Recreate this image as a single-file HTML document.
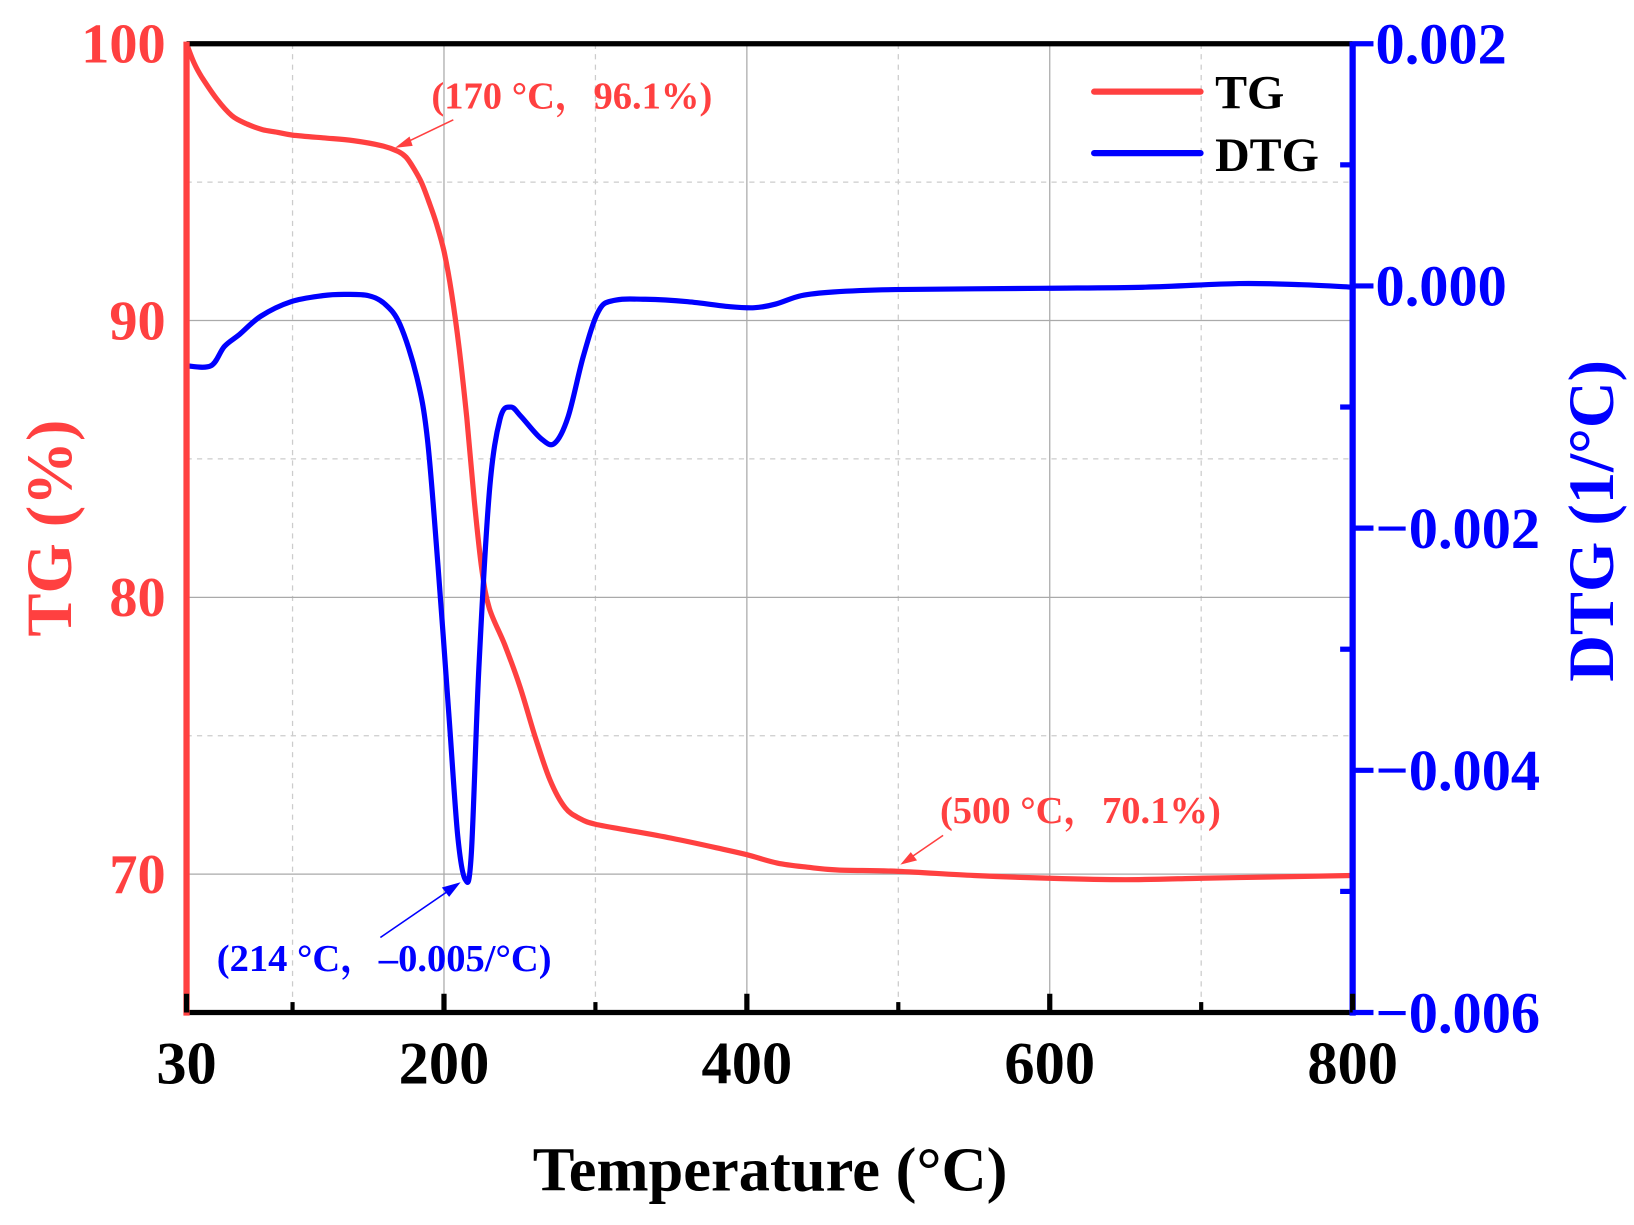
<!DOCTYPE html>
<html><head><meta charset="utf-8"><style>
html,body{margin:0;padding:0;background:#fff;}
svg{display:block;font-family:"Liberation Serif","Noto Serif CJK SC",serif;font-weight:bold;}
</style></head><body>
<svg id="chart" width="1634" height="1225" viewBox="0 0 1568 1176" preserveAspectRatio="none" xmlns="http://www.w3.org/2000/svg">
<g id="grid"></g>
<g id="series"></g>
<g id="axes"></g>
<g>
<line x1="1050" y1="88" x2="1152" y2="88" stroke="#ff4040" stroke-width="6" stroke-linecap="round"/>
<text x="1166" y="104" font-size="46">TG</text>
<line x1="1050" y1="147" x2="1152" y2="147" stroke="#0000ff" stroke-width="6" stroke-linecap="round"/>
<text x="1166" y="164" font-size="46">DTG</text>
</g>
<g>
<text x="414" y="104" font-size="37" fill="#ff4040">(170 °C，96.1%)</text>
<line x1="435" y1="115" x2="385" y2="139" stroke="#ff4040" stroke-width="1.5"/>
<polygon points="379,142 393,131 396,140" fill="#ff4040"/>
<text x="902" y="790" font-size="37" fill="#ff4040">(500 °C，70.1%)</text>
<line x1="905" y1="802" x2="870" y2="826" stroke="#ff4040" stroke-width="1.5"/>
<polygon points="864,830 874,818 880,826" fill="#ff4040"/>
<text x="208" y="932" font-size="37" fill="#0000ff">(214 °C，–0.005/°C)</text>
<line x1="365" y1="900" x2="435" y2="852" stroke="#0000ff" stroke-width="1.5"/>
<polygon points="442,847 424,852 431,861" fill="#0000ff"/>
</g>
<text x="739" y="1143" font-size="60" text-anchor="middle">Temperature (°C)</text>
<text transform="translate(68,507) rotate(-90)" font-size="62" text-anchor="middle" fill="#ff4040">TG (%)</text>
<text transform="translate(1548,500) rotate(-90)" font-size="62" text-anchor="middle" fill="#0000ff">DTG (1/°C)</text>
</svg>
<script>
const tgTemps=[30,35,40,50,60,70,80,90,100,120,140,160,170,175,180,185,190,195,200,205,210,215,220,225,230,240,250,260,270,280,290,300,320,350,380,400,420,440,460,500,550,600,650,700,750,800];
const tgValues=[100,99.3,98.8,98.0,97.4,97.1,96.9,96.8,96.7,96.6,96.5,96.3,96.1,95.9,95.5,95.0,94.3,93.5,92.5,91.0,89.0,86.5,83.5,81.0,79.6,78.3,76.8,75.0,73.4,72.4,72.0,71.8,71.6,71.3,70.95,70.7,70.4,70.25,70.15,70.1,69.95,69.85,69.8,69.85,69.9,69.95];
const dtgTemps=[30,46,55,65,79,99,120,134,150,161,171,182,189,196,203,209,214,218,223,230,237,244,251,264,273,282,292,302,312,333,361,388,405,419,436,457,498,594,663,725,766,800];
const dtgValues=[-0.00066,-0.00066,-0.0005,-0.0004,-0.00025,-0.00013,-0.00008,-0.00007,-0.00008,-0.00015,-0.00032,-0.00075,-0.00126,-0.0023,-0.0035,-0.00453,-0.0049,-0.0047,-0.00316,-0.0017,-0.0011,-0.001,-0.00108,-0.00126,-0.0013,-0.00108,-0.00058,-0.00021,-0.00012,-0.00011,-0.00013,-0.00017,-0.00018,-0.00015,-0.00008,-0.00005,-0.00003,-0.00002,-0.00001,0.00002,0.00001,-0.00001];
const xTicks=[30,200,400,600,800];
const xMinor=[100,300,500,700];
const tgTicks=[70,80,90,100];
const tgMinor=[75,85,95];
const dtgTicks=[0.002,0,-0.002,-0.004,-0.006];
const dtgTickLabels=["0.002","0.000","−0.002","−0.004","−0.006"];
const dtgMinor=[0.001,-0.001,-0.003,-0.005];

const PL=179,PR=1298,PT=42,PB=972;
const sx=v=>PL+(v-30)/(800-30)*(PR-PL);
const sy1=v=>PB-(v-65)/(100-65)*(PB-PT);
const sy2=v=>PB-(v+0.006)/0.008*(PB-PT);
const NS="http://www.w3.org/2000/svg";
function mk(tag,parent,attrs){const e=document.createElementNS(NS,tag);for(const k in attrs)e.setAttribute(k,attrs[k]);parent.appendChild(e);return e;}
function smooth(pts){let d='M'+pts[0][0].toFixed(1)+','+pts[0][1].toFixed(1);
for(let i=0;i<pts.length-1;i++){const p0=pts[Math.max(0,i-1)],p1=pts[i],p2=pts[i+1],p3=pts[Math.min(pts.length-1,i+2)];
const c1x=p1[0]+(p2[0]-p0[0])/6,c1y=p1[1]+(p2[1]-p0[1])/6,c2x=p2[0]-(p3[0]-p1[0])/6,c2y=p2[1]-(p3[1]-p1[1])/6;
d+='C'+c1x.toFixed(1)+','+c1y.toFixed(1)+' '+c2x.toFixed(1)+','+c2y.toFixed(1)+' '+p2[0].toFixed(1)+','+p2[1].toFixed(1);}
return d;}
const gridG=document.getElementById('grid'),seriesG=document.getElementById('series'),axesG=document.getElementById('axes');

xTicks.slice(1,4).forEach(v=>{const l=mk('line',gridG,{x1:sx(v),x2:sx(v),y1:PT,y2:PB,stroke:'#aaa','stroke-width':1.2});

});
xMinor.forEach(v=>{const l=mk('line',gridG,{x1:sx(v),x2:sx(v),y1:PT,y2:PB,stroke:'#ccc','stroke-width':1.2,'stroke-dasharray':'5,5'});

});
[70,80,90].forEach(v=>{const l=mk('line',gridG,{x1:PL,x2:PR,y1:sy1(v),y2:sy1(v),stroke:'#aaa','stroke-width':1.2});

});
tgMinor.forEach(v=>{const l=mk('line',gridG,{x1:PL,x2:PR,y1:sy1(v),y2:sy1(v),stroke:'#ccc','stroke-width':1.2,'stroke-dasharray':'5,5'});

});

const tgPath=mk('path',seriesG,{d:smooth(tgTemps.map((t,i)=>[sx(t),sy1(tgValues[i])])),fill:'none',stroke:'#ff4040','stroke-width':5,'stroke-linejoin':'round'});


const dtgPath=mk('path',seriesG,{d:smooth(dtgTemps.map((t,i)=>[sx(t),sy2(dtgValues[i])])),fill:'none',stroke:'#0000ff','stroke-width':5,'stroke-linejoin':'round'});



const topSpine=mk('line',axesG,{x1:PL,x2:PR,y1:PT,y2:PT,stroke:'#000','stroke-width':5});


const botSpine=mk('line',axesG,{x1:PL,x2:PR,y1:PB,y2:PB,stroke:'#000','stroke-width':5});


const leftSpine=mk('line',axesG,{x1:PL,x2:PL,y1:PT-2,y2:PB+3,stroke:'#ff4040','stroke-width':6});


const rightSpine=mk('line',axesG,{x1:PR,x2:PR,y1:PT-2,y2:PB+3,stroke:'#0000ff','stroke-width':6});



xTicks.forEach(v=>{const tk=mk('line',axesG,{x1:sx(v),x2:sx(v),y1:PB,y2:PB-18,stroke:'#000','stroke-width':5});


const t=mk('text',axesG,{x:sx(v),y:PB+68,'font-size':58,'text-anchor':'middle',fill:'#000'});t.textContent=v;

});
xMinor.forEach(v=>{const tk=mk('line',axesG,{x1:sx(v),x2:sx(v),y1:PB,y2:PB-10,stroke:'#000','stroke-width':4});

});
tgTicks.forEach(v=>{const t=mk('text',axesG,{x:PL-20,y:sy1(v)+18,'font-size':54,'text-anchor':'end',fill:'#ff4040'});t.textContent=v;

});
dtgTicks.forEach((v,i)=>{const tk=mk('line',axesG,{x1:PR,x2:PR+20,y1:sy2(v),y2:sy2(v),stroke:'#0000ff','stroke-width':5});


const t=mk('text',axesG,{x:PR+22,y:sy2(v)+19,'font-size':56,fill:'#0000ff'});t.textContent=dtgTickLabels[i];

});
dtgMinor.forEach(v=>{const tk=mk('line',axesG,{x1:PR,x2:PR-12,y1:sy2(v),y2:sy2(v),stroke:'#0000ff','stroke-width':5});

});
</script>
</body></html>
